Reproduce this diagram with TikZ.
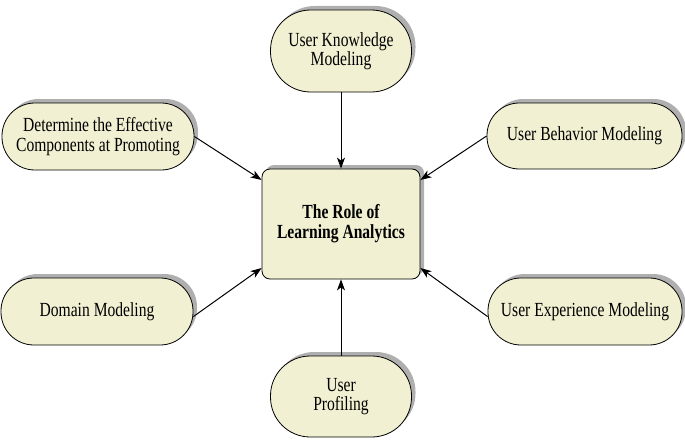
\documentclass[tikz,border=0pt]{standalone}
\usepackage{fontspec}
\setmainfont{Liberation Serif}
\newfontfamily\labelfont[FakeStretch=0.78]{Liberation Serif}
\usetikzlibrary{arrows.meta,shadows}

\definecolor{boxfill}{RGB}{242,240,210}
\definecolor{boxshadow}{RGB}{175,175,175}

% let stacked lines sit closer than their glyphs allow
\lineskiplimit=-30pt

\begin{document}
\begin{tikzpicture}[x=1pt, y=-1pt,
    topic/.style n args={2}{draw, line width=0.8pt, fill=boxfill, align=center,
      inner sep=0pt, minimum width=#1, minimum height=#2, rounded corners=0.49*#2,
      font=\labelfont\fontsize{20}{19.5}\selectfont,
      drop shadow={shadow xshift=4pt, shadow yshift=4pt, fill=boxshadow, opacity=1}},
    hub/.style={draw, line width=0.8pt, fill=boxfill, align=center,
      inner sep=0pt, minimum width=158pt, minimum height=110pt, rounded corners=8pt,
      font=\labelfont\fontsize{20}{20}\selectfont\bfseries,
      drop shadow={shadow xshift=4pt, shadow yshift=4pt, fill=boxshadow, opacity=1}},
    arrow/.style={-{Stealth[length=11pt, width=8pt, inset=3pt]}, line width=1pt}]

    % Fix the page size
    \useasboundingbox (0,0) rectangle (685,444);

    % Central box
    \node[hub] (role) at (341,224) {The Role of\\Learning Analytics};

    % Surrounding topics
    \node[topic={141pt}{82pt}] (know) at (341,51) {User Knowledge\\Modeling};
    \node[topic={192pt}{67pt}] (determ) at (98,136.5) {Determine the Effective\\Components at Promoting};
    \node[topic={195pt}{66pt}] (behav) at (584.5,136) {User Behavior Modeling};
    \node[topic={192pt}{67pt}] (domain) at (97,311.5) {Domain Modeling};
    \node[topic={194pt}{67pt}] (exper) at (585,311.5) {User Experience Modeling};
    \node[topic={141pt}{81pt}] (prof) at (341,396.5) {User\\Profiling};

    % Arrows into the central box
    \foreach \src/\dst in {know.south/role.north, prof.north/role.south,
                           determ.east/role.151, behav.west/role.29,
                           domain.-3/role.209, exper.183/role.331} {
        \draw[arrow] (\src) -- (\dst);
    }
\end{tikzpicture}
\end{document}
